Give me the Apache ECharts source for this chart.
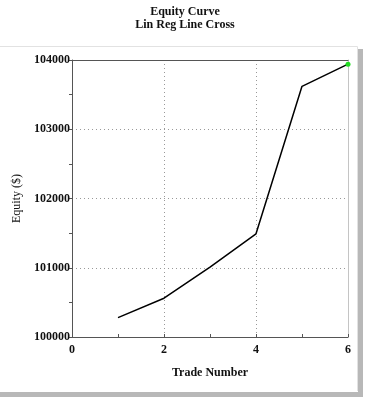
<!DOCTYPE html>
<html><head><meta charset="utf-8">
<script src="https://cdn.jsdelivr.net/npm/echarts@6/dist/echarts.min.js"></script>
<style>html,body{margin:0;padding:0;background:#fff}#c{width:366px;height:400px}</style>
</head><body><div id="c"></div>
<script>
var tradeNumbers = [1, 2, 3, 4, 5, 6];
var equity = [100280, 100560, 101010, 101490, 103620, 103940];
var titleLines = ['Equity Curve', 'Lin Reg Line Cross'];
var xName = 'Trade Number';
var yName = 'Equity ($)';

var font = '"Liberation Serif", "Times New Roman", serif';
var data = tradeNumbers.map(function (t, i) {
  var d = { value: [t, equity[i]] };
  if (i === tradeNumbers.length - 1) {
    d.symbol = 'circle'; d.symbolSize = 5; d.itemStyle = { color: '#22dd22' };
  }
  return d;
});

var chart = echarts.init(document.getElementById('c'), null, { renderer: 'canvas' });
chart.setOption({
  animation: false,
  backgroundColor: '#fff',
  title: {
    text: titleLines.join('\n'), left: 180, top: 0, textAlign: 'center',
    textStyle: { fontFamily: font, fontWeight: 'bold', fontSize: 12, color: '#111', lineHeight: 13 }
  },
  graphic: [
    { type: 'line', shape: { x1: 0, y1: 46.5, x2: 357.5, y2: 46.5 }, style: { stroke: '#e2e2e2', lineWidth: 1 } },
    { type: 'line', shape: { x1: 357.5, y1: 46.5, x2: 357.5, y2: 391 }, style: { stroke: '#e2e2e2', lineWidth: 1 } },
    { type: 'rect', shape: { x: 358, y: 49, width: 5, height: 348 }, style: { fill: '#b8b8b8' } },
    { type: 'rect', shape: { x: 0, y: 392, width: 363, height: 5 }, style: { fill: '#b8b8b8' } }
  ],
  grid: { left: 72, right: 18, top: 60, bottom: 63, containLabel: false },
  xAxis: [{
    type: 'value', min: 0, max: 6, interval: 2,
    name: xName, nameLocation: 'middle', nameGap: 30,
    nameTextStyle: { fontFamily: font, fontWeight: 'bold', fontSize: 12, color: '#111' },
    axisLine: { show: true, lineStyle: { color: '#555', width: 1 } },
    axisTick: { show: true, inside: true, length: 3, lineStyle: { color: '#555' } },
    minorTick: { show: true, splitNumber: 2, length: 3, lineStyle: { color: '#555' } },
    axisLabel: { fontFamily: font, fontWeight: 'bold', fontSize: 12, color: '#111', margin: 7 },
    splitLine: { show: true, lineStyle: { color: '#999', type: [1, 3], width: 1 } }
  }, {
    type: 'value', position: 'top', min: 0, max: 6,
    axisLine: { show: true, onZero: false, lineStyle: { color: '#555', width: 1 } },
    axisTick: { show: false }, axisLabel: { show: false }, splitLine: { show: false }
  }],
  yAxis: [{
    type: 'value', min: 100000, max: 104000, interval: 1000,
    name: yName, nameLocation: 'middle', nameGap: 45, nameRotate: 90,
    nameTextStyle: { fontFamily: font, fontSize: 12, color: '#111' },
    axisLine: { show: true, lineStyle: { color: '#555', width: 1 } },
    axisTick: { show: true, length: 4, lineStyle: { color: '#555' } },
    minorTick: { show: true, splitNumber: 2, length: 3, lineStyle: { color: '#555' } },
    axisLabel: { fontFamily: font, fontWeight: 'bold', fontSize: 12, color: '#111', margin: 2,
      formatter: function (v) { return String(v); } },
    splitLine: { show: true, lineStyle: { color: '#999', type: [1, 3], width: 1 } }
  }, {
    type: 'value', position: 'right', min: 100000, max: 104000,
    axisLine: { show: true, onZero: false, lineStyle: { color: '#c4c4c4', width: 1 } },
    axisTick: { show: false }, axisLabel: { show: false }, splitLine: { show: false }
  }],
  series: [{
    type: 'line', data: data, symbol: 'none', showSymbol: true,
    lineStyle: { color: '#000', width: 1.5 },
    itemStyle: { color: '#000' }
  }]
});
</script></body></html>
